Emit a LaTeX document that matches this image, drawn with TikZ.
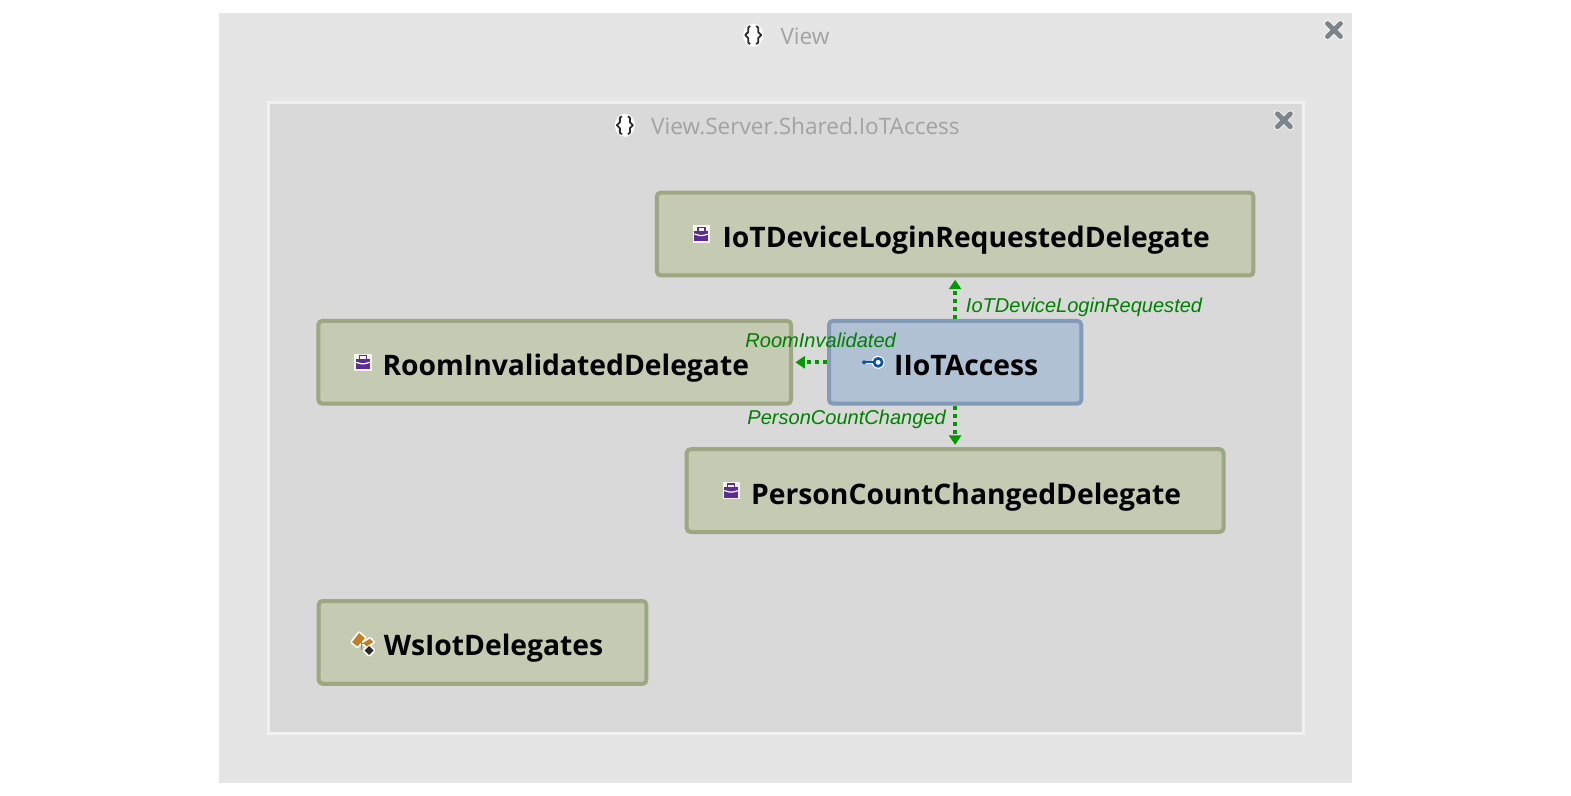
\documentclass[tikz,border=0pt]{standalone}
\usepackage{fontspec}
\setmainfont{Open Sans}
\newfontfamily\labelfont{Liberation Sans}
\usetikzlibrary{arrows.meta}
\definecolor{framea}{HTML}{E5E5E5}
\definecolor{frameb}{HTML}{D9D9D9}
\definecolor{frameline}{HTML}{F1F1F1}
\definecolor{boxfill}{HTML}{C5CAB3}
\definecolor{boxline}{HTML}{9DA781}
\definecolor{ifill}{HTML}{B0C1D3}
\definecolor{iline}{HTML}{819BB8}
\definecolor{linkgreen}{HTML}{009900}
\definecolor{labelgreen}{HTML}{008000}
\definecolor{titlegrey}{HTML}{A2A2A2}
\definecolor{xgrey}{HTML}{7D858C}
\definecolor{bagpurple}{HTML}{5C2D91}
\definecolor{keyblue}{HTML}{0B55A3}
\definecolor{structorange}{HTML}{C27D25}
\definecolor{bracedark}{HTML}{2B2B2B}
\tikzset{
  x=0.75pt,y=-0.75pt,
  frameone/.style={draw=none,fill=framea,inner sep=0pt,minimum width=847.5pt,minimum height=576pt},
  frametwo/.style={draw=frameline,line width=2.25pt,fill=frameb,inner sep=0pt,minimum width=774.5pt,minimum height=472pt},
  typebox/.style={draw=boxline,fill=boxfill,line width=3pt,rounded corners=3pt,inner sep=0pt,
    minimum height=62pt,text height=20.25pt,text depth=0pt,text=black,font=\fontsize{21.15}{24}\selectfont\bfseries},
  ifacebox/.style={typebox,draw=iline,fill=ifill},
  conn/.style={linkgreen,line width=2.8pt,dash pattern=on 3pt off 3pt,shorten >=1.75pt,
    -{Stealth[length=7pt,width=9pt,inset=0pt]}},
  linklabel/.style={anchor=base west,inner sep=0pt,text=labelgreen,font=\labelfont\itshape\fontsize{15}{18}\selectfont},
  titletext/.style={anchor=base west,inner sep=0pt,text=titlegrey,font=\fontsize{16.9}{20}\selectfont},
  closemark/.pic={
    \draw[white,opacity=.55,line width=5pt,line cap=round] (-7,-7)--(7,7) (-7,7)--(7,-7);
    \draw[xgrey,line width=3.6pt,line cap=round] (-6.5,-6.5)--(6.5,6.5) (-6.5,6.5)--(6.5,-6.5);
  },
  bracesicon/.pic={
    \fill[white] (0,0) ellipse [x radius=10,y radius=11.5];
    \draw[bracedark,line width=1.35pt,line join=round]
      (-3,-9)--(-5,-7.5)--(-5,-3)--(-8,0)--(-5,3)--(-5,7.5)--(-3,9)
      (3,-9)--(5,-7.5)--(5,-3)--(8,0)--(5,3)--(5,7.5)--(3,9);
  },
  bagicon/.pic={
    \fill[white,opacity=.8] (-8.5,-8.5) rectangle (8.5,8.5);
    \draw[bagpurple,line width=1pt] (-3.5,-3) -- (-3.5,-6.5) -- (3.5,-6.5) -- (3.5,-3);
    \fill[bagpurple] (-7,-3.5) rectangle (7,7);
    \draw[white,line width=.9pt] (-7,0) -- (-1.5,1.5) -- (1.5,1.5) -- (7,0);
  },
  keyicon/.pic={
    \draw[white,line width=2.6pt,line cap=round] (-9,0) -- (1,0);
    \fill[white] (5,0) circle (6.5);
    \draw[keyblue,line width=1.5pt] (-9,0) -- (1,0);
    \fill[keyblue] (-9,0) circle (2);
    \draw[keyblue,line width=2pt] (5,0) circle (4);
  },
  structicon/.pic={
    \draw[white,line width=2.6pt,line join=round,fill=white] (-9.7,-0.3) -- (-2.7,-9.3) -- (3,-4.3) -- (-4.3,4) -- cycle;
    \draw[white,line width=2.6pt,line join=round,fill=white] (1.3,0.7) -- (8,-3.7) -- (11.3,-0.3) -- (4.7,4) -- cycle;
    \draw[white,line width=2.6pt,line join=round,fill=white] (2.8,8) -- (7.3,3.5) -- (11.8,8) -- (7.3,12.5) -- cycle;
    \draw[structorange,line width=.8pt] (-0.5,-1) -- (-0.5,8) (-0.5,1.5) -- (3,1.5);
    \fill[structorange] (-9.7,-0.3) -- (-2.7,-9.3) -- (3,-4.3) -- (-4.3,4) -- cycle;
    \fill[structorange] (1.3,0.7) -- (8,-3.7) -- (11.3,-0.3) -- (4.7,4) -- cycle;
    \fill[bracedark] (2.8,8) -- (7.3,3.5) -- (11.8,8) -- (7.3,12.5) -- cycle;
  },
}
\newcommand{\withicon}[1]{\hspace{16.5pt}#1}
\begin{document}%
\begin{tikzpicture}%
\useasboundingbox (0,0) rectangle (1567.5,794.2);
\fill[white] (0,0) rectangle (1571,796);

\node[frameone] (viewframe) at (784,397) {};
\node[frametwo] (sharedframe) at (784.5,417) {};
\node[titletext] (viewtitle) at (778.5,44.5) {View};
\node[titletext] (sharedtitle) at (649.5,134.5) {View.Server.Shared.IoTAccess};
\pic at (751.5,35) {bracesicon};
\pic at (623.5,125) {bracesicon};
\pic at (1331,30) {closemark};
\pic at (1281,120) {closemark};

\node[typebox,minimum width=446.5pt] (logindelegate) at (953,233.5) {\withicon{IoTDeviceLoginRequestedDelegate}};
\node[typebox,minimum width=353.75pt] (roomdelegate) at (553.5,361.5) {\withicon{RoomInvalidatedDelegate}};
\node[ifacebox,minimum width=188.75pt] (iotaccess) at (953,361.5) {\withicon{IIoTAccess}};
\node[typebox,minimum width=401.75pt] (countdelegate) at (953,489.5) {\withicon{PersonCountChangedDelegate}};
\node[typebox,minimum width=245.25pt] (wsiot) at (481.5,641) {\withicon{WsIotDelegates}};

\path (logindelegate.west) ++(46.5,0) pic {bagicon};
\path (roomdelegate.west) ++(46.5,0) pic {bagicon};
\path (countdelegate.west) ++(46.5,0) pic {bagicon};
\path (iotaccess.west) ++(46,0) pic {keyicon};
\path (wsiot.west) ++(45,0) pic {structicon};

\draw[conn] (iotaccess.north) -- (logindelegate.south);
\draw[conn] (iotaccess.west) -- (roomdelegate.east);
\draw[conn] (iotaccess.south) -- (countdelegate.north);

\node[linklabel] (loginlabel) at (963.5,312) {IoTDeviceLoginRequested};
\node[linklabel] (roomlabel) at (743.5,347) {RoomInvalidated};
\node[linklabel] (countlabel) at (745.5,424) {PersonCountChanged};
\end{tikzpicture}%
\end{document}
